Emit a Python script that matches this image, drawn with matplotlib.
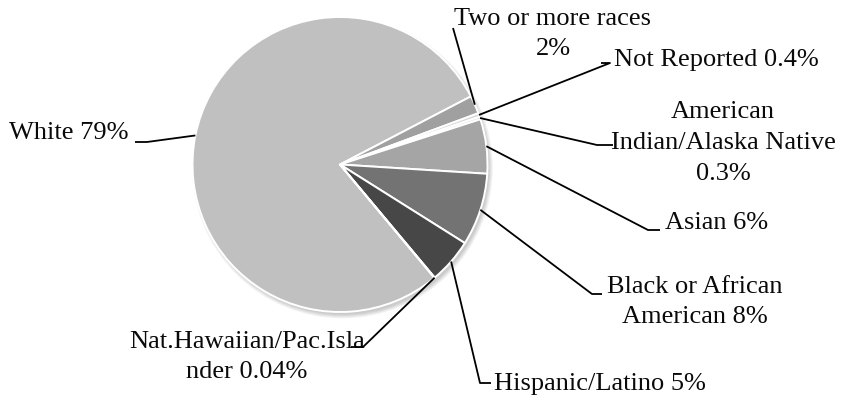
import matplotlib
matplotlib.use("Agg")
import matplotlib.pyplot as plt
import numpy as np
from matplotlib.patches import Circle

# Данные (порядок — по часовой стрелке, как в исходной диаграмме)
labels = ["White 79%", "Two or more races\n2%", "Not Reported 0.4%",
          "American\nIndian/Alaska Native\n0.3%", "Asian 6%",
          "Black or African\nAmerican 8%", "Hispanic/Latino 5%",
          "Nat.Hawaiian/Pac.Isla\nnder 0.04%"]
values = [79, 2, 0.4, 0.3, 6, 8, 5, 0.04]
colors = ["#c0c0c0", "#a0a0a0", "#d6d6d6", "#e2e2e2",
          "#a5a5a5", "#737373", "#474747", "#9a9a9a"]

W, H = 846, 400


def px(x, y):
    """Пиксели картинки (y вниз) -> координаты осей (y вверх)."""
    return x, H - y


# Раскладка подписей: (позиция текста, выравнивание, излом выноски, конец выноски)
LAYOUT = [
    ((128, 133), "right", "center", (147, 142), (135, 142)),
    ((553, 34), "center", "center", (453, 28), (453, 28)),
    ((614, 60), "left", "center", (610, 63), (601, 63)),
    ((723, 143), "center", "center", (597, 145), (613, 145)),
    ((665, 223), "left", "center", (648, 230), (660, 230)),
    ((695, 302), "center", "center", (592, 294), (602, 294)),
    ((494, 384), "left", "center", (480, 383), (491, 383)),
    ((247, 357), "center", "center", (363, 347), (351, 347)),
]

plt.rcParams['font.family'] = ['Liberation Serif', 'DejaVu Serif']

fig = plt.figure(figsize=(W / 100, H / 100), dpi=100)
ax = fig.add_axes([0, 0, 1, 1])

center = px(340, 164.5)
radius = 147.5

# Мягкая тень справа снизу
for i in range(6):
    ax.add_patch(Circle((center[0] + 2.5, center[1] - 3.5), radius + 3 - i * 0.8,
                        facecolor='black', edgecolor='none', alpha=0.035, zorder=0))

wedges, _ = ax.pie(values, colors=colors, startangle=-50.2, counterclock=False,
                   center=center, radius=radius, frame=True,
                   wedgeprops=dict(edgecolor='white', linewidth=1.4))
ax.set_xlim(0, W)
ax.set_ylim(0, H)
ax.set_aspect('equal')
ax.axis('off')

# Подписи и выноски
for w, lab, (tpos, ha, va, elbow, end) in zip(wedges, labels, LAYOUT):
    ang = np.deg2rad((w.theta1 + w.theta2) / 2)
    x0 = center[0] + radius * np.cos(ang)
    y0 = center[1] + radius * np.sin(ang)
    ex, ey = px(*elbow)
    nx, ny = px(*end)
    ax.plot([x0, ex, nx], [y0, ey, ny], color='black', lw=1.3,
            solid_capstyle='butt', zorder=5)
    tx, ty = px(*tpos)
    ax.text(tx, ty, lab, ha=ha, va=va, fontsize=19, color='#0a0a0a',
            multialignment='center', linespacing=1.5)

fig.savefig("out.png", dpi=100)
